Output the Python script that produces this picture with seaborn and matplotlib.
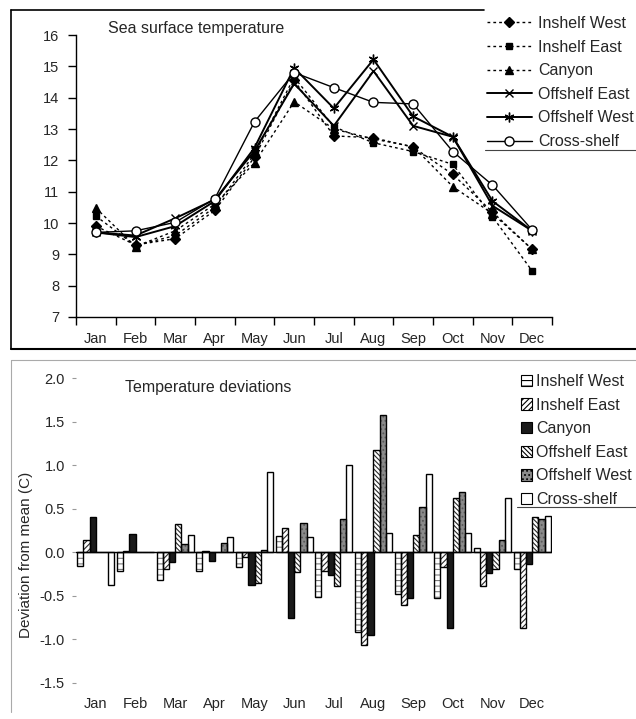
import matplotlib
matplotlib.use("Agg")
import matplotlib.pyplot as plt
from matplotlib.lines import Line2D
from matplotlib.patches import Patch
import numpy as np
import pandas as pd
import seaborn as sns

months = ['Jan', 'Feb', 'Mar', 'Apr', 'May', 'Jun', 'Jul', 'Aug', 'Sep', 'Oct', 'Nov', 'Dec']
sites = ['Inshelf West', 'Inshelf East', 'Canyon', 'Offshelf East', 'Offshelf West', 'Cross-shelf']

# sea surface temperature (C)
sst_inshelf_west = [9.9, 9.3, 9.5, 10.4, 12.1, 14.55, 12.78, 12.72, 12.42, 11.55, 10.35, 9.16]
sst_inshelf_east = [10.22, 9.28, 9.6, 10.5, 12.2, 14.65, 13.07, 12.56, 12.28, 11.87, 10.2, 8.47]
sst_canyon = [10.48, 9.25, 9.75, 10.6, 11.92, 13.87, 13.0, 12.68, 12.44, 11.16, 10.3, 9.16]
sst_offshelf_east = [9.7, 9.6, 10.15, 10.75, 12.3, 14.45, 13.1, 14.85, 13.1, 12.75, 10.55, 9.75]
sst_offshelf_west = [9.7, 9.55, 9.9, 10.7, 12.4, 14.95, 13.66, 15.22, 13.4, 12.75, 10.7, 9.75]
sst_cross_shelf = [9.7, 9.75, 10.02, 10.78, 13.23, 14.8, 14.32, 13.85, 13.8, 12.28, 11.21, 9.78]

# deviation from mean (C)
dev_inshelf_west = [-0.16, -0.22, -0.32, -0.21, -0.17, 0.19, -0.51, -0.92, -0.48, -0.52, 0.05, -0.19]
dev_inshelf_east = [0.14, 0.02, -0.19, 0.02, -0.05, 0.28, -0.22, -1.06, -0.60, -0.17, -0.39, -0.87]
dev_canyon = [0.40, 0.21, -0.11, -0.10, -0.37, -0.75, -0.26, -0.95, -0.52, -0.87, -0.24, -0.14]
dev_offshelf_east = [0.0, 0.0, 0.32, 0.0, -0.35, -0.23, -0.39, 1.17, 0.20, 0.62, -0.19, 0.41]
dev_offshelf_west = [0.0, 0.0, 0.09, 0.11, 0.03, 0.34, 0.38, 1.57, 0.52, 0.69, 0.14, 0.38]
dev_cross_shelf = [-0.38, 0.0, 0.20, 0.17, 0.92, 0.17, 1.00, 0.22, 0.90, 0.22, 0.62, 0.42]

sst = [sst_inshelf_west, sst_inshelf_east, sst_canyon,
       sst_offshelf_east, sst_offshelf_west, sst_cross_shelf]
dev = [dev_inshelf_west, dev_inshelf_east, dev_canyon,
       dev_offshelf_east, dev_offshelf_west, dev_cross_shelf]

sns.set_style('ticks')
plt.rcParams['font.family'] = ['Liberation Sans', 'DejaVu Sans']
plt.rcParams['axes.unicode_minus'] = False
plt.rcParams['hatch.linewidth'] = 0.8

fig = plt.figure(figsize=(6.36, 7.19), dpi=100)
ax1 = fig.add_axes([76 / 636, 1 - 317 / 719, 476 / 636, 282 / 719])
ax2 = fig.add_axes([76 / 636, 1 - 683 / 719, 476 / 636, 305 / 719])

# ---- top: line chart
dotted = (0, (2, 2.2))
line_styles = [
    dict(marker='D', linestyle=dotted, lw=1.0, ms=5, mfc='black'),
    dict(marker='s', linestyle=dotted, lw=1.0, ms=5, mfc='black'),
    dict(marker='^', linestyle=dotted, lw=1.0, ms=6, mfc='black'),
    dict(marker='x', linestyle='-', lw=1.4, ms=6, mfc='black'),
    dict(marker=(6, 2, 0), linestyle='-', lw=1.4, ms=7, mfc='black'),
    dict(marker='o', linestyle='-', lw=1.0, ms=6.5, mfc='white'),
]
handles = []
for site, vals, st in zip(sites, sst, line_styles):
    sns.lineplot(x=months, y=vals, ax=ax1, color='black', sort=False,
                 mec='black', mew=1.0, label=site, **st)
    handles.append(Line2D([], [], color='black', mec='black', mew=1.0, **st))
ax1.get_legend().remove()

ax1.set_xlim(-0.5, 11.5)
ax1.set_ylim(7, 16)
ax1.set_yticks(range(7, 17))
ax1.set_xticks(range(12))
ax1.set_xticklabels(months)
ax1.set_xticks(np.arange(-0.5, 12, 1), minor=True)
ax1.tick_params(axis='x', which='major', length=0, pad=11, labelsize=10.5)
ax1.tick_params(axis='x', which='minor', length=6, width=1, color='black', direction='out')
ax1.tick_params(axis='y', length=6, width=1, color='black', pad=6, labelsize=10.5)
for s in ['top', 'right']:
    ax1.spines[s].set_visible(False)
for s in ['left', 'bottom']:
    ax1.spines[s].set_color('black')
    ax1.spines[s].set_linewidth(1)
ax1.set_xlabel('')
ax1.set_ylabel('')
ax1.text(0.067, 1.022, 'Sea surface temperature', transform=ax1.transAxes,
         fontsize=11.5, va='center', ha='left')

fig.legend(handles, sites, loc='upper left', bbox_to_anchor=(487 / 636, 1 - 16 / 719),
           frameon=False, borderpad=0, borderaxespad=0, fontsize=11.5,
           handlelength=2.8, handletextpad=0.4, labelspacing=0.54)

# ---- bottom: bar chart
df = pd.DataFrame({'month': np.tile(months, len(sites)),
                   'site': np.repeat(sites, len(months)),
                   'dev': np.concatenate(dev)})

bar_styles = [
    dict(face='white', hatch='---', hc='#7a7a7a'),
    dict(face='white', hatch='//////', hc='#2a2a2a'),
    dict(face='#1a1a1a', hatch='', hc='#1a1a1a'),
    dict(face='white', hatch='\\\\\\\\\\\\\\', hc='#2a2a2a'),
    dict(face='#8a8a8a', hatch='....', hc='#5a5a5a'),
    dict(face='white', hatch='', hc='white'),
]
sns.barplot(data=df, x='month', y='dev', hue='site', hue_order=sites,
            palette=[b['face'] for b in bar_styles], saturation=1,
            width=0.94, linewidth=0, legend=False, ax=ax2)
for cont, b in zip(ax2.containers, bar_styles):
    for bar in cont:
        bar.set_facecolor(b['face'])
        bar.set_hatch(b['hatch'])
        bar.set_edgecolor(b['hc'])
        bar.set_linewidth(0)
# outlines
sns.barplot(data=df, x='month', y='dev', hue='site', hue_order=sites,
            palette=['black'] * 6, saturation=1, fill=False,
            width=0.94, linewidth=1.0, legend=False, ax=ax2)

ax2.axhline(0, color='black', lw=1)
ax2.set_ylim(-1.5, 2.0)
ax2.set_xlim(-0.5, 11.5)
ax2.set_yticks(np.arange(-1.5, 2.01, 0.5))
ax2.yaxis.set_major_formatter(plt.FormatStrFormatter('%.1f'))
ax2.tick_params(axis='y', length=3, width=0.8, color='#999999', pad=5, labelsize=10.5)
ax2.tick_params(axis='x', length=0, pad=10, labelsize=10.5)
for s in ['top', 'right', 'left', 'bottom']:
    ax2.spines[s].set_visible(False)
ax2.set_xlabel('')
ax2.set_ylabel('Deviation from mean (C)', fontsize=11)
ax2.yaxis.set_label_coords(-0.090, 0.42)
ax2.text(0.103, 0.970, 'Temperature deviations', transform=ax2.transAxes,
         fontsize=11.5, va='center', ha='left')

bar_handles = [Patch(facecolor=b['face'], hatch=b['hatch'], edgecolor='black', lw=0.8)
               for b in bar_styles]
fig.legend(bar_handles, sites, loc='upper left', bbox_to_anchor=(521 / 636, 1 - 374 / 719),
           frameon=False, borderpad=0, borderaxespad=0, fontsize=11.5,
           handlelength=0.7, handleheight=0.7, handletextpad=0.25, labelspacing=0.54)

# panel frames and legend rules
def hline(y, x0, x1, color='black', lw=1.0):
    fig.add_artist(Line2D([x0 / 636, x1 / 636], [1 - y / 719, 1 - y / 719],
                          color=color, lw=lw, transform=fig.transFigure))

def vline(x, y0, y1, color='black', lw=1.0):
    fig.add_artist(Line2D([x / 636, x / 636], [1 - y0 / 719, 1 - y1 / 719],
                          color=color, lw=lw, transform=fig.transFigure))

hline(10, 11, 484, lw=1.2)
vline(11, 10, 349, lw=1.2)
hline(349, 11, 636, lw=1.5)
hline(150, 485, 636, color='#444444', lw=0.8)
hline(360, 11, 636, color='#aaaaaa', lw=0.8)
vline(11, 360, 712, color='#aaaaaa', lw=0.8)
hline(507, 517, 636, color='#444444', lw=0.8)

fig.savefig('out.png', dpi=100)
